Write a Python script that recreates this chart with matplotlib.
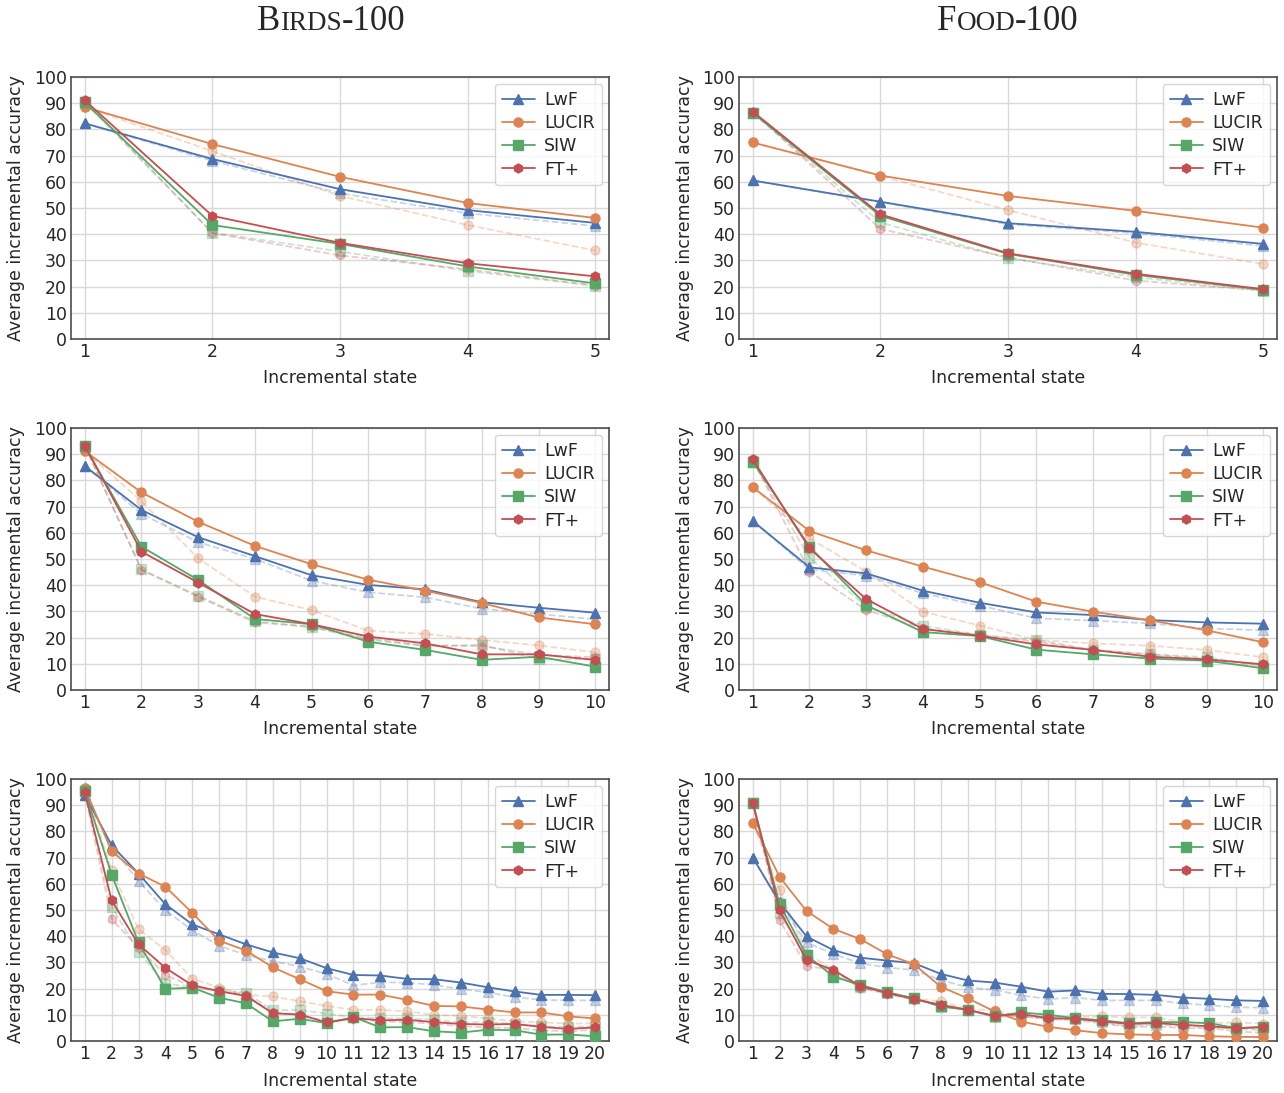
import numpy as np
import matplotlib.pyplot as plt
import seaborn as sns
from matplotlib.offsetbox import TextArea, HPacker, AnnotationBbox

sns.set_theme(style='whitegrid', palette='deep')
plt.rcParams['font.family'] = ['DejaVu Sans']

methods = ['LwF', 'LUCIR', 'SIW', 'FT+']
colors = ['#4C72B0', '#DD8452', '#55A868', '#C44E52']
markers = ['^', 'o', 's', 'h']

# Birds-100, 5 states
birds5_lwf = [82.3, 68.7, 57.2, 49.2, 44.3]
birds5_lucir = [88.5, 74.4, 61.9, 51.9, 46.2]
birds5_siw = [90.3, 43.5, 36.3, 27.7, 21.2]
birds5_ft = [91.1, 47.0, 36.7, 28.9, 23.9]
birds5_lwf_d = [82.3, 68.0, 55.6, 48.0, 43.1]
birds5_lucir_d = [88.5, 71.7, 54.6, 43.5, 33.8]
birds5_siw_d = [90.3, 40.6, 33.4, 26.0, 20.3]
birds5_ft_d = [91.1, 40.4, 31.9, 26.6, 20.4]

# Food-100, 5 states
food5_lwf = [60.5, 52.4, 44.2, 40.9, 36.3]
food5_lucir = [75.0, 62.4, 54.6, 48.9, 42.5]
food5_siw = [86.3, 47.0, 32.5, 24.5, 18.8]
food5_ft = [86.8, 47.6, 32.7, 24.9, 19.0]
food5_lwf_d = [60.5, 52.2, 43.8, 40.4, 35.5]
food5_lucir_d = [75.0, 62.2, 49.2, 36.8, 28.6]
food5_siw_d = [86.3, 44.5, 30.8, 23.6, 18.4]
food5_ft_d = [86.8, 42.0, 31.2, 22.3, 18.5]

# Birds-100, 10 states
birds10_lwf = [85.5, 68.7, 58.3, 51.1, 43.8, 40.1, 38.4, 33.5, 31.4, 29.5]
birds10_lucir = [91.2, 75.4, 64.2, 55.0, 48.0, 42.1, 37.9, 33.2, 27.7, 25.1]
birds10_siw = [93.1, 54.7, 42.0, 27.1, 25.1, 18.4, 15.3, 11.5, 12.7, 8.9]
birds10_ft = [93.3, 52.8, 41.0, 29.0, 25.1, 20.4, 17.8, 13.6, 13.6, 11.5]
birds10_lwf_d = [85.5, 67.2, 56.4, 50.0, 41.7, 37.3, 35.4, 31.0, 29.0, 27.0]
birds10_lucir_d = [91.2, 72.0, 50.3, 35.6, 30.5, 22.6, 21.4, 19.1, 17.0, 14.4]
birds10_siw_d = [93.1, 46.0, 36.0, 26.3, 23.9, 19.1, 16.9, 17.2, 11.7, 11.7]
birds10_ft_d = [93.3, 45.8, 35.6, 25.8, 24.2, 19.7, 16.9, 16.8, 13.4, 12.5]

# Food-100, 10 states
food10_lwf = [64.5, 46.8, 44.5, 37.9, 33.3, 29.6, 28.6, 26.7, 25.8, 25.3]
food10_lucir = [77.4, 60.7, 53.3, 47.1, 41.2, 33.7, 29.9, 26.6, 22.8, 18.2]
food10_siw = [87.2, 54.7, 32.4, 22.1, 20.6, 15.4, 13.6, 12.0, 11.2, 8.3]
food10_ft = [88.0, 54.1, 34.7, 23.3, 20.7, 17.4, 15.3, 12.7, 11.7, 9.8]
food10_lwf_d = [64.5, 46.0, 43.6, 36.9, 32.2, 27.4, 26.5, 25.4, 23.5, 22.8]
food10_lucir_d = [77.4, 57.9, 45.2, 29.9, 24.6, 19.1, 17.8, 16.9, 15.3, 12.5]
food10_siw_d = [87.2, 50.5, 31.8, 24.6, 21.0, 19.1, 15.3, 13.7, 12.5, 9.5]
food10_ft_d = [88.0, 45.2, 30.5, 23.5, 21.0, 18.4, 15.3, 13.6, 11.8, 9.3]

# Birds-100, 20 states
birds20_lwf = [94.0, 74.7, 63.9, 52.2, 44.5, 40.7, 36.9, 33.8, 31.6, 27.8,
               25.2, 25.0, 23.7, 23.6, 22.3, 20.5, 18.9, 17.6, 17.6, 17.5]
birds20_lucir = [96.6, 72.4, 63.9, 58.9, 48.9, 38.3, 34.5, 28.1, 23.6, 19.0,
                 17.7, 17.7, 15.7, 13.4, 13.2, 12.0, 10.9, 10.9, 9.4, 8.6]
birds20_siw = [95.3, 63.5, 37.6, 19.9, 20.4, 16.5, 14.4, 7.5, 8.5, 6.8,
               9.1, 5.2, 5.3, 3.7, 3.2, 4.3, 4.1, 2.4, 2.5, 1.8]
birds20_ft = [94.9, 53.7, 36.9, 27.9, 21.3, 19.0, 17.2, 10.6, 10.1, 7.1,
              8.7, 7.9, 8.1, 7.2, 6.5, 6.3, 6.5, 5.4, 4.6, 5.2]
birds20_lwf_d = [94.0, 74.0, 61.0, 49.9, 42.3, 36.4, 32.8, 30.5, 28.4, 25.6,
                 21.2, 22.4, 22.3, 21.4, 19.8, 18.6, 16.7, 15.7, 15.5, 15.5]
birds20_lucir_d = [96.6, 65.1, 42.7, 34.7, 23.8, 20.4, 17.6, 17.0, 15.2, 13.4,
                   11.9, 11.9, 11.3, 10.0, 9.6, 8.6, 7.5, 7.1, 6.6, 6.8]
birds20_siw_d = [95.3, 51.2, 34.1, 21.8, 20.8, 19.1, 18.5, 11.7, 11.9, 10.4,
                 9.1, 8.7, 8.7, 8.1, 7.1, 7.2, 6.6, 5.6, 5.3, 5.6]
birds20_ft_d = [94.9, 46.5, 35.6, 25.2, 20.8, 19.1, 17.6, 10.9, 10.0, 7.5,
                8.4, 7.5, 7.2, 6.6, 5.6, 5.2, 4.9, 4.1, 3.7, 4.3]

# Food-100, 20 states
food20_lwf = [70.0, 52.9, 39.9, 34.7, 31.8, 30.7, 29.7, 25.6, 23.1, 22.3,
              20.7, 18.8, 19.3, 18.0, 17.9, 17.6, 16.6, 16.1, 15.5, 15.3]
food20_lucir = [83.3, 62.6, 49.6, 42.8, 38.9, 33.1, 29.3, 20.7, 16.3, 11.3,
                7.4, 5.4, 4.1, 3.0, 2.5, 2.3, 2.3, 1.8, 1.6, 1.5]
food20_siw = [90.9, 52.1, 32.8, 24.6, 21.4, 18.6, 16.3, 13.2, 11.9, 9.4,
              10.9, 10.0, 8.7, 7.9, 6.8, 7.2, 7.2, 6.8, 4.9, 5.3]
food20_ft = [90.9, 49.9, 30.9, 27.1, 21.0, 18.3, 16.0, 13.8, 11.9, 9.6,
             10.3, 8.7, 8.5, 7.5, 6.5, 6.8, 6.2, 5.6, 4.9, 5.3]
food20_lwf_d = [70.0, 52.5, 37.6, 33.2, 29.7, 28.0, 27.1, 23.3, 20.5, 19.5,
                17.4, 16.0, 16.6, 15.5, 15.5, 15.5, 14.4, 13.6, 12.9, 12.7]
food20_lucir_d = [83.3, 57.5, 33.5, 27.1, 20.2, 18.5, 16.3, 15.1, 12.2, 11.7,
                  9.4, 9.0, 9.1, 9.4, 9.0, 9.0, 7.2, 6.8, 7.1, 6.6]
food20_siw_d = [90.9, 48.7, 32.2, 25.2, 20.8, 18.5, 16.3, 12.9, 11.9, 9.1,
                9.6, 8.4, 8.4, 7.2, 5.6, 6.2, 5.6, 5.3, 4.6, 4.1]
food20_ft_d = [90.9, 46.1, 28.6, 27.1, 20.2, 18.0, 15.7, 13.8, 11.7, 9.4,
               9.4, 8.4, 7.9, 6.8, 5.3, 5.6, 4.9, 4.9, 3.7, 3.0]

panels = [
    (5, [birds5_lwf, birds5_lucir, birds5_siw, birds5_ft],
     [birds5_lwf_d, birds5_lucir_d, birds5_siw_d, birds5_ft_d]),
    (5, [food5_lwf, food5_lucir, food5_siw, food5_ft],
     [food5_lwf_d, food5_lucir_d, food5_siw_d, food5_ft_d]),
    (10, [birds10_lwf, birds10_lucir, birds10_siw, birds10_ft],
     [birds10_lwf_d, birds10_lucir_d, birds10_siw_d, birds10_ft_d]),
    (10, [food10_lwf, food10_lucir, food10_siw, food10_ft],
     [food10_lwf_d, food10_lucir_d, food10_siw_d, food10_ft_d]),
    (20, [birds20_lwf, birds20_lucir, birds20_siw, birds20_ft],
     [birds20_lwf_d, birds20_lucir_d, birds20_siw_d, birds20_ft_d]),
    (20, [food20_lwf, food20_lucir, food20_siw, food20_ft],
     [food20_lwf_d, food20_lucir_d, food20_siw_d, food20_ft_d]),
]

W, H = 1284, 1093
fig = plt.figure(figsize=(W / 100, H / 100), dpi=100)

lefts = [71, 739]
tops = [77, 428, 779]
aw, ah = 538, 262
fs = 12.5

axes = []
for i, (n, solid, dashed) in enumerate(panels):
    r, c = divmod(i, 2)
    ax = fig.add_axes([lefts[c] / W, 1 - (tops[r] + ah) / H, aw / W, ah / H])
    axes.append(ax)
    x = np.arange(1, n + 1)
    for vals, col, mk in zip(dashed, colors, markers):
        ax.plot(x, vals, ls='--', color=col, marker=mk, ms=6.5, lw=1.3,
                alpha=0.3, zorder=2)
    for vals, col, mk, name in zip(solid, colors, markers, methods):
        ax.plot(x, vals, color=col, marker=mk, ms=6.5, lw=1.3, label=name,
                zorder=3)
    pad = 0.027 * (n - 1)
    ax.set_xlim(1 - pad, n + pad)
    ax.set_ylim(0, 100)
    ax.set_xticks(x)
    ax.set_yticks(np.arange(0, 101, 10))
    ax.tick_params(labelsize=fs, pad=3, colors='0.15', length=0)
    for s in ax.spines.values():
        s.set_color('0.3')
        s.set_linewidth(1.2)
    ax.grid(color='0.85', lw=1.0)
    ax.set_xlabel('Incremental state', fontsize=fs, color='0.15', labelpad=6)
    ax.set_ylabel('Average incremental accuracy', fontsize=fs, color='0.15',
                  labelpad=6)
    ax.legend(loc='upper right', fontsize=fs, frameon=True, framealpha=0.8,
              borderaxespad=0.4, labelspacing=0.3, handlelength=1.9,
              handletextpad=0.55)


def small_caps_title(ax, first, rest, tail, dx=0):
    parts = [TextArea(first, textprops=dict(family='Liberation Serif', size=25)),
             TextArea(rest, textprops=dict(family='Liberation Serif', size=19.5)),
             TextArea(tail, textprops=dict(family='Liberation Serif', size=25))]
    box = HPacker(children=parts, align='baseline', pad=0, sep=0)
    ab = AnnotationBbox(box, (0.5, 1.0), xybox=(0.5 + dx / aw, 1.0 + 56 / ah),
                        xycoords='axes fraction', boxcoords='axes fraction',
                        frameon=False, box_alignment=(0.5, 0.5))
    ax.add_artist(ab)


small_caps_title(axes[0], 'B', 'IRDS', '-100', dx=-9)
small_caps_title(axes[1], 'F', 'OOD', '-100')

fig.savefig('out.png', dpi=100)
